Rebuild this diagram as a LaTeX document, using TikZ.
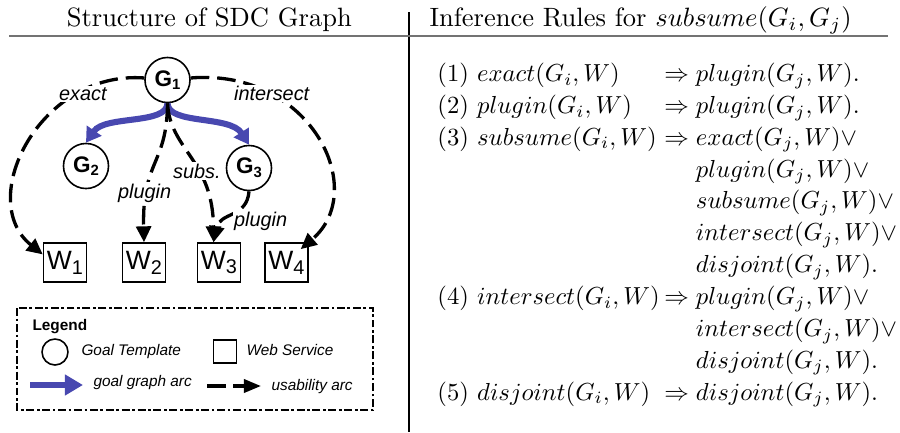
\documentclass[tikz,border=0pt]{standalone}
\usepackage{fontspec}
\newfontfamily\arialf{Liberation Sans}
\usetikzlibrary{arrows.meta}
\definecolor{gblue}{RGB}{72,72,176}
\definecolor{rulegray}{RGB}{115,115,115}
\newcommand{\gsb}[1]{\raisebox{-1.4pt}{\fontsize{5.6}{6}\selectfont #1}}
\newcommand{\wsb}[1]{\raisebox{-1.8pt}{\fontsize{7.5}{8}\selectfont #1}}
\newcommand{\cont}{\hphantom{\Rightarrow}\;}
\begin{document}
\begin{tikzpicture}[x=0.3774pt,y=-0.3774pt,
  gnode/.style={circle,draw,line width=0.6pt,minimum size=17pt,inner sep=0pt,font=\arialf\bfseries\fontsize{8.5}{10}\selectfont},
  wnode/.style={rectangle,draw,line width=0.6pt,minimum width=16.2pt,minimum height=14.7pt,inner sep=0pt,font=\arialf\fontsize{10}{12}\selectfont},
  usearc/.style={line width=1.25pt,dash pattern=on 7pt off 3pt,-{Triangle[length=6pt,width=5.6pt]}},
  goalarc/.style={gblue,line width=2.3pt,-{Triangle[length=5.5pt,width=6.5pt]}},
  lbl/.style={font=\arialf\itshape\fontsize{7.5}{9}\selectfont,fill=white,inner sep=0.6pt,anchor=base west},
  legtxt/.style={font=\arialf\itshape\fontsize{5.8}{7}\selectfont,inner sep=0pt,anchor=base west},
  rl/.style={inner sep=0pt,anchor=base west,font=\fontsize{10}{12}\selectfont},
  rule/.style={rl,scale=0.93,transform shape}]
\useasboundingbox (0,0) rectangle (900,432);

% table lines
\draw[line width=0.5pt] (409,12) -- (409,432);
\draw[rulegray,line width=0.75pt] (9,36) -- (888,36);

% headers
\node[inner sep=0pt,anchor=base,font=\fontsize{10}{12}\selectfont] (h1) at (209.3,26.5) {Structure of SDC Graph};
\node[rl] (h2) at (429,26.5) {Inference Rules for $subsume(G_i,G_j)$};

% graph nodes
\node[gnode] (G1) at (167.5,80) {G\gsb{1}};
\node[gnode] (G2) at (86,166) {G\gsb{2}};
\node[gnode] (G3) at (249,168) {G\gsb{3}};
\node[wnode] (W1) at (65,262.5) {W\wsb{1}};
\node[wnode] (W2) at (144,262.5) {W\wsb{2}};
\node[wnode] (W3) at (219,262.5) {W\wsb{3}};
\node[wnode] (W4) at (286.5,262.5) {W\wsb{4}};

% goal graph arcs
\draw[goalarc] (G1.south) .. controls (167,125) and (105,115) .. (G2.north);
\draw[goalarc] (G1.south) .. controls (168,125) and (230,115) .. (G3.north);

% usability arcs
\draw[usearc] (G1.175) .. controls (40,70) and (-25,200) .. (W1.160);
\draw[usearc,shorten >=-4pt] (G1.5) .. controls (310,68) and (370,190) .. (W4.north east);
\draw[usearc] (G1.south) .. controls (167,165) and (142,160) .. (W2.north);
\draw[usearc] (G1.south) .. controls (170,150) and (213,160) .. (W3.105);
\draw[usearc] (G3.south) .. controls (247,218) and (220,212) .. (W3.105);

% arc labels
\node[lbl] (lexact) at (57,100.7) {exact};
\node[lbl] (linter) at (232,100.7) {intersect};
\node[lbl] (lplug1) at (116,198) {plugin};
\node[lbl] (lsubs) at (171,178) {subs.};
\node[lbl] (lplug2) at (232,226.7) {plugin};

% legend
\draw[line width=1pt,dash pattern=on 3pt off 1pt on 1pt off 1pt] (17,308) rectangle (373,410);
\node[inner sep=0pt,anchor=base west,font=\arialf\bfseries\fontsize{5.8}{7}\selectfont] (legt) at (32,330) {Legend};
\node[circle,draw,line width=0.6pt,minimum size=9.8pt,inner sep=0pt] (lcirc) at (55,352) {};
\node[legtxt] (lgt) at (81,355) {Goal Template};
\node[rectangle,draw,line width=0.6pt,minimum size=8.7pt,inner sep=0pt] (lsq) at (225,351.5) {};
\node[legtxt] (lws) at (246,355.5) {Web Service};
\coordinate (gb1) at (30,385);
\coordinate (gb2) at (83,385);
\draw[gblue,line width=2.6pt,-{Triangle[length=6.8pt,width=7.5pt]}] (gb1) -- (gb2);
\node[legtxt] (lgga) at (93,386.7) {goal graph arc};
\coordinate (ua1) at (207,386);
\coordinate (ua2) at (261,386);
\draw[line width=1.25pt,dash pattern=on 7pt off 3pt,-{Triangle[length=6.5pt,width=5pt]}] (ua1) -- (ua2);
\node[legtxt] (lua) at (271,390) {usability arc};

% inference rules
\node[rule] (r1a) at (437,81.5) {$(1)\ exact(G_i,W)$};
\node[rule] (r1b) at (664,81.5) {$\Rightarrow plugin(G_j,W).$};
\node[rule] (r2a) at (437,113.35) {$(2)\ plugin(G_i,W)$};
\node[rule] (r2b) at (664,113.35) {$\Rightarrow plugin(G_j,W).$};
\node[rule] (r3a) at (437,145.2) {$(3)\ subsume(G_i,W)$};
\node[rule] (r3b) at (664,145.2) {$\Rightarrow exact(G_j,W)\vee$};
\node[rule] (r4b) at (664,177.05) {$\cont plugin(G_j,W)\vee$};
\node[rule] (r5b) at (664,208.9) {$\cont subsume(G_j,W)\vee$};
\node[rule] (r6b) at (664,240.75) {$\cont intersect(G_j,W)\vee$};
\node[rule] (r7b) at (664,272.6) {$\cont disjoint(G_j,W).$};
\node[rule] (r8a) at (437,304.45) {$(4)\ intersect(G_i,W)$};
\node[rule] (r8b) at (664,304.45) {$\Rightarrow plugin(G_j,W)\vee$};
\node[rule] (r9b) at (664,336.3) {$\cont intersect(G_j,W)\vee$};
\node[rule] (r10b) at (664,368.15) {$\cont disjoint(G_j,W).$};
\node[rule] (r11a) at (437,400) {$(5)\ disjoint(G_i,W)$};
\node[rule] (r11b) at (664,400) {$\Rightarrow disjoint(G_j,W).$};
\end{tikzpicture}
\end{document}
